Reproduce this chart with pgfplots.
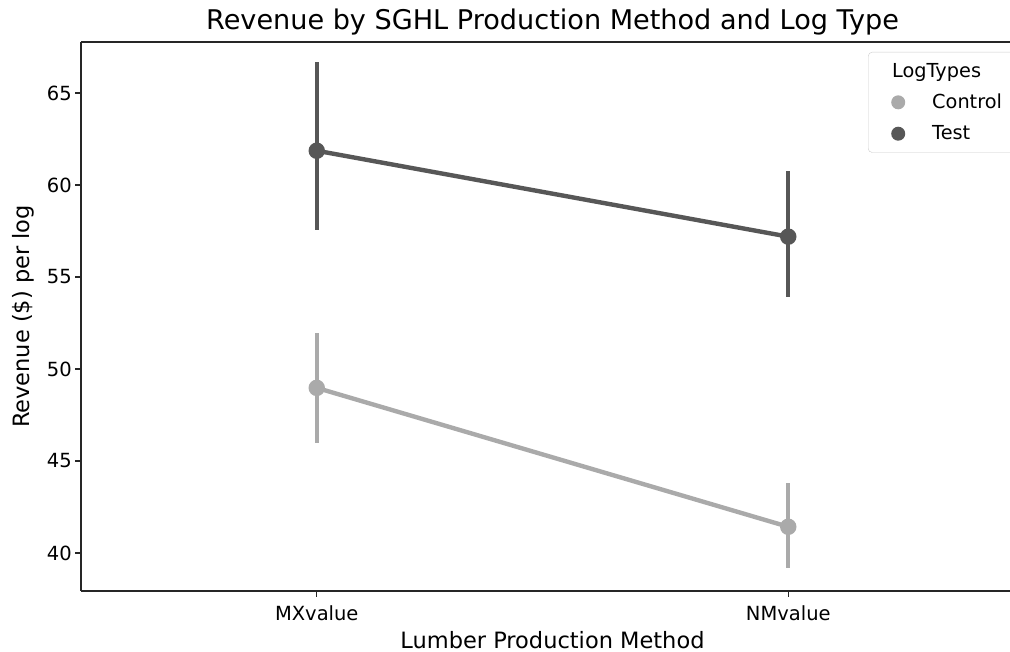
\documentclass[border=0pt]{standalone}
\usepackage{fontspec}
\setmainfont{DejaVu Sans}
\usepackage{pgfplots}
\pgfplotsset{compat=1.18}
\definecolor{ctrl}{RGB}{170,170,170}
\definecolor{test}{RGB}{87,87,87}
\begin{document}
\begin{tikzpicture}
\begin{axis}[
  at={(81pt,61pt)}, anchor=south west,
  scale only axis, width=943pt, height=549pt,
  xmin=-0.5, xmax=1.5, ymin=37.93, ymax=67.77,
  axis x line*=bottom, axis y line*=left,
  xtick={0,1}, xticklabels={MXvalue,NMvalue},
  ytick={40,45,50,55,60,65},
  tick align=outside, tick pos=left,
  major tick length=5.7pt,
  every tick/.style={black!85, line width=1.3pt},
  axis line style={black!85, line width=1.3pt, -},
  tick label style={font=\fontsize{19.5}{23}\selectfont},
  xticklabel style={yshift=-5pt},
  /pgf/number format/assume math mode=true,
  xlabel={Lumber Production Method},
  ylabel={Revenue (\$) per log},
  label style={font=\fontsize{22.5}{27}\selectfont},
  xlabel style={at={(axis description cs:0.5,-0.0893)}, anchor=center},
  ylabel style={at={(axis description cs:-0.0615,0.5)}, anchor=center},
  title={Revenue by SGHL Production Method and Log Type},
  title style={font=\fontsize{27.1}{32}\selectfont, at={(axis description cs:0.5,1.025)}, anchor=center},
  legend style={at={(axis description cs:0.8346,0.9818)}, anchor=north west,
    draw=black!20, rounded corners=4pt, fill=white,
    font=\fontsize{19.3}{23}\selectfont, row sep=11.5pt, inner ysep=9pt},
  legend cell align=left,
  legend image code/.code={\path[draw=none,fill=none] (0pt,0pt) (59pt,0pt); \fill[draw=none] (27pt,0pt) circle (7pt);},
]
\draw[black!85, line width=1.3pt] (rel axis cs:0,1) -- (rel axis cs:1,1);
\addlegendimage{empty legend}
\addlegendentry{\hspace{-40pt}LogTypes}
\addplot[ctrl, line width=4.4pt, mark=*, mark size=6pt,
  mark options={solid, fill=ctrl, draw=none},
  error bars/.cd, y dir=both, y explicit, error mark=none,
  error bar style={line width=4.4pt, ctrl}]
  coordinates {(0,48.97) += (0,2.99) -= (0,2.97)
               (1,41.42) += (0,2.38) -= (0,2.24)};
\addlegendentry{\makebox[94pt][l]{Control}}
\addplot[test, line width=4.4pt, mark=*, mark size=6pt,
  mark options={solid, fill=test, draw=none},
  error bars/.cd, y dir=both, y explicit, error mark=none,
  error bar style={line width=4.4pt, test}]
  coordinates {(0,61.86) += (0,4.81) -= (0,4.31)
               (1,57.19) += (0,3.59) -= (0,3.28)};
\addlegendentry{Test}
\end{axis}
\pgfresetboundingbox
\path[use as bounding box] (0,0) rectangle (1010pt,652pt);
\end{tikzpicture}
\end{document}
